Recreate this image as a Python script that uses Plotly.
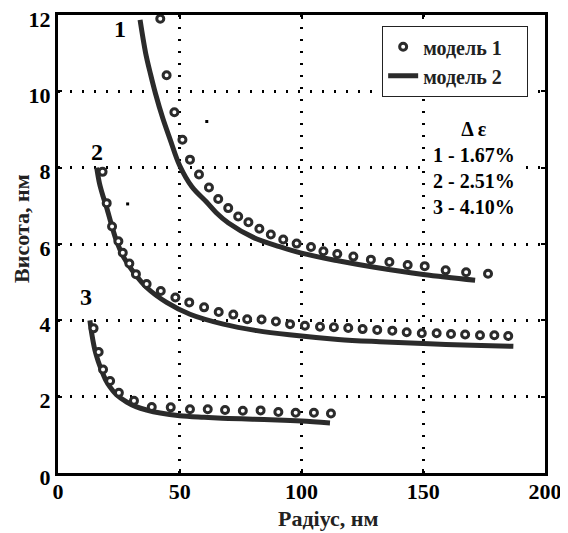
import plotly.graph_objects as go

# ---- data ----
m1_x1 = [42.0, 44.6, 47.8, 51.1, 54.2, 57.9, 62.0, 65.8, 69.9, 74.0, 78.2, 82.7, 87.4, 92.5, 98.0,
         103.9, 109.0, 114.7, 121.3, 128.5, 136.1, 143.6, 150.6, 159.2, 167.6, 176.6]
m1_y1 = [11.9, 10.42, 9.45, 8.73, 8.21, 7.82, 7.48, 7.18, 6.94, 6.72, 6.57, 6.40, 6.25, 6.12, 6.01,
         5.92, 5.81, 5.74, 5.67, 5.59, 5.53, 5.45, 5.42, 5.31, 5.26, 5.22]

m1_x2 = [18.3, 20.0, 22.2, 24.8, 26.6, 29.3, 32.0, 36.4, 42.2, 48.2, 53.9, 60.0, 66.0, 72.0, 77.7,
         83.6, 89.5, 95.3, 101.4, 107.6, 113.3, 119.2, 125.1, 131.1, 137.3, 143.2, 149.4, 155.5,
         161.4, 167.2, 173.3, 179.2, 184.9]
m1_y2 = [7.89, 7.07, 6.46, 6.07, 5.77, 5.49, 5.21, 4.95, 4.77, 4.60, 4.47, 4.34, 4.22, 4.15, 4.03,
         4.02, 3.97, 3.90, 3.86, 3.83, 3.82, 3.80, 3.77, 3.75, 3.73, 3.69, 3.66, 3.66,
         3.64, 3.63, 3.61, 3.61, 3.59]

m1_x3 = [14.6, 16.7, 18.5, 21.4, 25.0, 31.2, 38.5, 46.3, 54.2, 61.5, 68.6, 75.9, 83.2, 90.5, 97.6, 105.1, 112.1]
m1_y3 = [3.79, 3.17, 2.71, 2.41, 2.10, 1.89, 1.73, 1.72, 1.67, 1.67, 1.65, 1.63, 1.64, 1.60, 1.58, 1.58, 1.56]

m2_x1 = [33.7, 36.0, 38.0, 40.0, 43.0, 46.0, 50.0, 55.0, 61.0, 65.0, 70.0, 80.0, 91.0, 100.0, 115.0, 130.0, 150.0, 171.3]
m2_y1 = [11.87, 11.0, 10.45, 9.95, 9.3, 8.75, 8.05, 7.5, 7.1, 6.82, 6.55, 6.18, 5.93, 5.76, 5.56, 5.39, 5.2, 5.05]

m2_x2 = [15.9, 17.0, 18.5, 20.0, 22.0, 24.1, 27.0, 30.9, 36.4, 44.6, 54.2, 67.9, 81.6, 95.0, 115.0, 132.0, 150.0, 170.0, 187.0]
m2_y2 = [8.0, 7.6, 7.25, 6.95, 6.5, 6.07, 5.65, 5.27, 4.86, 4.47, 4.16, 3.9, 3.73, 3.62, 3.5, 3.44, 3.39, 3.35, 3.32]

m2_x3 = [13.1, 14.0, 15.2, 16.5, 17.9, 19.5, 21.4, 24.0, 28.2, 32.0, 36.4, 42.0, 50.0, 60.0, 70.0, 80.0, 90.0, 100.0, 111.7]
m2_y3 = [4.0, 3.6, 3.21, 2.93, 2.69, 2.45, 2.25, 2.05, 1.86, 1.74, 1.65, 1.57, 1.5, 1.46, 1.43, 1.41, 1.39, 1.36, 1.31]

x_ticks = [0, 50, 100, 150, 200]
y_ticks = [0, 2, 4, 6, 8, 10, 12]

x_title = "Радіус, нм"
y_title = "Висота, нм"

curve_labels = ["1", "2", "3"]
curve_label_x = [25.5, 16.2, 11.6]
curve_label_y = [11.64, 8.42, 4.6]

delta_lines = ["\u0394 \u03b5", "1 - 1.67%", "2 - 2.51%", "3 - 4.10%"]

speck_x = [61.1, 28.6]
speck_y = [9.21, 7.05]

INK = "#2b2b2b"
FONT = "Liberation Serif"

fig = go.Figure()

line_xs = [m2_x1, m2_x2, m2_x3]
line_ys = [m2_y1, m2_y2, m2_y3]
for lx, ly in zip(line_xs, line_ys):
    fig.add_trace(go.Scatter(x=lx, y=ly, mode="lines", line=dict(color=INK, width=5, shape="spline"),
                             name="модель 2", showlegend=False))

pt_xs = [m1_x1, m1_x2, m1_x3]
pt_ys = [m1_y1, m1_y2, m1_y3]
for i, (px, py) in enumerate(zip(pt_xs, pt_ys)):
    fig.add_trace(go.Scatter(x=px, y=py, mode="markers",
                             marker=dict(symbol="circle", size=7, color="white",
                                         line=dict(color=INK, width=3)),
                             name="<b>модель 1</b>\u2003", showlegend=(i == 0), legendrank=1))

fig.add_trace(go.Scatter(x=[None], y=[None], mode="lines", line=dict(color=INK, width=5),
                         name="<b>модель 2</b>\u2003", showlegend=True, legendrank=2))

fig.add_trace(go.Scatter(x=speck_x, y=speck_y, mode="markers",
                         marker=dict(symbol="square", size=3, color="black"),
                         showlegend=False, hoverinfo="skip"))

for t, x, y in zip(curve_labels, curve_label_x, curve_label_y):
    fig.add_annotation(x=x, y=y, text="<b>" + t + "</b>", showarrow=False,
                       font=dict(family=FONT, size=24, color="black"))

# Δε block on a white patch (covers the grid as in the reference)
fig.add_annotation(x=170.8, y=7.98, text="<br>".join("<b>" + t + "</b>" for t in delta_lines),
                   showarrow=False, align="center", bgcolor="white", borderpad=6,
                   font=dict(family=FONT, size=20, color="black"))

# axis titles (placed off-centre as in the reference)
fig.add_annotation(xref="paper", yref="paper", x=0.554, y=-0.099, text="<b>" + x_title + "</b>",
                   showarrow=False, xanchor="center", yanchor="middle",
                   font=dict(family=FONT, size=22, color="#222"))
fig.add_annotation(xref="paper", yref="paper", x=-0.074, y=0.535, text="<b>" + y_title + "</b>",
                   showarrow=False, xanchor="center", yanchor="middle", textangle=-90,
                   font=dict(family=FONT, size=22, color="#222"))

axis_common = dict(showline=True, linecolor="black", linewidth=3, mirror="ticks",
                   ticks="inside", ticklen=4, tickwidth=2, tickcolor="black",
                   showgrid=True, gridcolor="black", gridwidth=2.5, griddash="2px,10px",
                   zeroline=False, automargin=False, ticklabeloverflow="allow",
                   tickfont=dict(family=FONT, size=22, color="black"))

fig.update_xaxes(range=[0, 200], tickvals=x_ticks, ticktext=["<b>%d</b>" % v for v in x_ticks],
                 ticklabelstandoff=-3, **axis_common)
fig.update_yaxes(range=[0, 12], tickvals=y_ticks, ticktext=["<b>%d</b>" % v for v in y_ticks],
                 ticklabelshift=4, **axis_common)

# the page body adds an 8px offset, so the figure is sized to the visible area
fig.update_layout(
    width=560, height=525,
    margin=dict(l=50, r=23, t=7, b=60),
    plot_bgcolor="white", paper_bgcolor="white",
    showlegend=True,
    legend=dict(x=0.965, y=0.976, xanchor="right", yanchor="top",
                bgcolor="white", bordercolor="#222", borderwidth=1.2,
                font=dict(family=FONT, size=20, color="#222"),
                tracegroupgap=0, itemwidth=30),
)

fig.write_html("out.html")
